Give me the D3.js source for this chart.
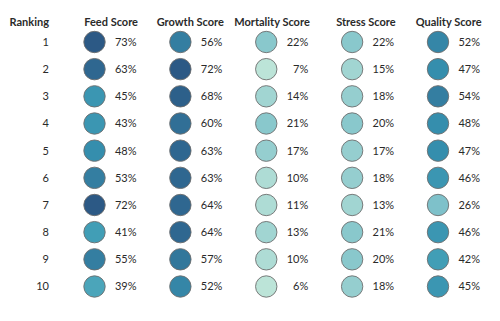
<!DOCTYPE html>
<html>
<head>
<meta charset="utf-8">
<script src="https://cdn.jsdelivr.net/npm/d3@7"></script>
<style>
body{margin:0;background:#fff}
text{font-family:Lato,"Open Sans",sans-serif}
</style>
</head>
<body>
<div id="chart"></div>
<script>
'use strict'
const width=500
const height=321
const rankings=[1,2,3,4,5,6,7,8,9,10]
const scoreNames=['Feed Score','Growth Score','Mortality Score','Stress Score','Quality Score']
const feedScore=[73,63,45,43,48,53,72,41,55,39]
const growthScore=[56,72,68,60,63,63,64,64,57,52]
const mortalityScore=[22,7,14,21,17,10,11,13,10,6]
const stressScore=[22,15,18,20,17,18,13,21,20,18]
const qualityScore=[52,47,54,48,47,46,26,46,42,45]
const blueTeal=['#bce4d8','#aedcd5','#a1d5d2','#95cecf','#89c8cc','#7ec1ca','#72bac6','#66b2c2','#59acbe','#4ba5ba','#419eb6','#3b96b2','#358ead','#3586a7','#347ea1','#32779b','#316f96','#2f6790','#2d608a','#2c5985']

const series=[feedScore,growthScore,mortalityScore,stressScore,qualityScore]
let cells=[]
series.forEach(function(vals,c){vals.forEach(function(v,r){cells.push({score:scoreNames[c],rank:rankings[r],value:v})})})

const allVals=cells.map(d=>d.value)
const color=d3.scaleQuantize().domain([d3.min(allVals),d3.max(allVals)]).range(blueTeal)
const x=d3.scalePoint().domain(scoreNames).range([94.5,438])
const y=d3.scalePoint().domain(rankings).range([42,286.5])
const labelOffset=42
const radius=10.7

let svg=d3.select('#chart').append('svg').attr('width',width).attr('height',height)

// headers
svg.append('text').attr('x',49).attr('y',26).attr('text-anchor','end').attr('font-size',11).attr('font-weight','bold').attr('fill','#2a2a2a').text('Ranking')
svg.selectAll('.head').data(scoreNames).enter().append('text').attr('class','head')
.attr('x',d=>x(d)+labelOffset+1.5).attr('y',26).attr('text-anchor','end')
.attr('font-size',11).attr('font-weight','bold').attr('fill','#2a2a2a').text(d=>d)

// ranking numbers
svg.selectAll('.rank').data(rankings).enter().append('text').attr('class','rank')
.attr('x',49).attr('y',d=>y(d)).attr('dy','0.35em').attr('text-anchor','end')
.attr('font-size',11).attr('fill','#2a2a2a').text(d=>d)

// circles
svg.selectAll('circle').data(cells).enter().append('circle')
.attr('cx',d=>x(d.score)).attr('cy',d=>y(d.rank)).attr('r',radius)
.style('fill',d=>color(d.value)).style('stroke','#6e6e6e').style('stroke-width',0.9)

// value labels
svg.selectAll('.val').data(cells).enter().append('text').attr('class','val')
.attr('x',d=>x(d.score)+labelOffset).attr('y',d=>y(d.rank)).attr('dy','0.35em').attr('text-anchor','end')
.attr('font-size',11).attr('fill','#2a2a2a').text(d=>d.value+'%')
</script>
</body>
</html>
